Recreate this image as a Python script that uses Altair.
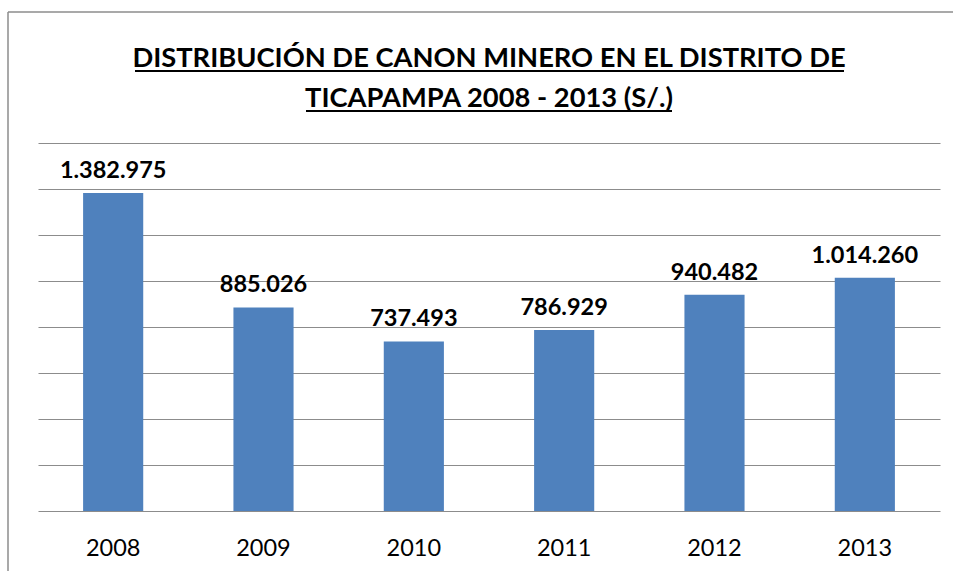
import altair as alt
import pandas as pd

years = ["2008", "2009", "2010", "2011", "2012", "2013"]
values = [1382975, 885026, 737493, 786929, 940482, 1014260]
labels = [f"{v:,}".replace(",", ".") for v in values]
title_lines = ["DISTRIBUCIÓN DE CANON MINERO EN EL DISTRITO DE", "TICAPAMPA 2008 - 2013 (S/.)"]

df = pd.DataFrame({"year": years, "value": values, "label": labels})

FONT = "Lato"
W, H = 902, 368

base = alt.Chart(df)

bars = base.mark_bar(color="#4F81BD").encode(
    x=alt.X("year:N", sort=years, title=None,
            scale=alt.Scale(paddingInner=0.6, paddingOuter=0.3),
            axis=alt.Axis(labelAngle=0, labelFontSize=23.5, labelColor="#000000",
                          labelFont=FONT, ticks=False, domain=False, grid=False, labelPadding=25)),
    y=alt.Y("value:Q", title=None,
            scale=alt.Scale(domain=[0, 1600000]),
            axis=alt.Axis(values=[0, 200000, 400000, 600000, 800000, 1000000, 1200000, 1400000, 1600000],
                          labels=False, ticks=False, domain=False,
                          grid=True, gridColor="#8c8c8c", gridWidth=1.2)),
)

text = base.mark_text(font=FONT, fontSize=23.5, fontWeight="bold", color="#000000",
                      baseline="bottom", dy=-10).encode(
    x=alt.X("year:N", sort=years),
    y="value:Q",
    text="label:N",
)

title1 = alt.Chart(pd.DataFrame({"t": [title_lines[0]]})).mark_text(
    font=FONT, fontSize=27.3, fontWeight="bold", color="#000000", baseline="alphabetic"
).encode(x=alt.value(W / 2), y=alt.value(-76), text="t:N")
title2 = alt.Chart(pd.DataFrame({"t": [title_lines[1]]})).mark_text(
    font=FONT, fontSize=27.3, fontWeight="bold", color="#000000", baseline="alphabetic"
).encode(x=alt.value(W / 2), y=alt.value(-36), text="t:N")

ul1 = alt.Chart(pd.DataFrame({"a": [0]})).mark_rule(color="#000000", strokeWidth=2).encode(
    x=alt.value(97), x2=alt.value(806), y=alt.value(-72))
ul2 = alt.Chart(pd.DataFrame({"a": [0]})).mark_rule(color="#000000", strokeWidth=2).encode(
    x=alt.value(268), x2=alt.value(634), y=alt.value(-32))

frame_top = alt.Chart(pd.DataFrame({"a": [0]})).mark_rule(color="#8c8c8c", strokeWidth=1.5).encode(
    x=alt.value(-30), x2=alt.value(915), y=alt.value(-131))
frame_left = alt.Chart(pd.DataFrame({"a": [0]})).mark_rule(color="#8c8c8c", strokeWidth=1.5).encode(
    x=alt.value(-30), y=alt.value(-131), y2=alt.value(430))

chart = alt.layer(bars, text, title1, title2, ul1, ul2, frame_top, frame_left).properties(
    width=W, height=H,
    background="#ffffff",
    autosize=alt.AutoSizeParams(type="none"),
    padding={"left": 38, "top": 143, "right": 13, "bottom": 60},
).configure_view(strokeWidth=0, stroke="transparent")

chart.save("out.html", embed_options={"renderer": "svg", "actions": False})
